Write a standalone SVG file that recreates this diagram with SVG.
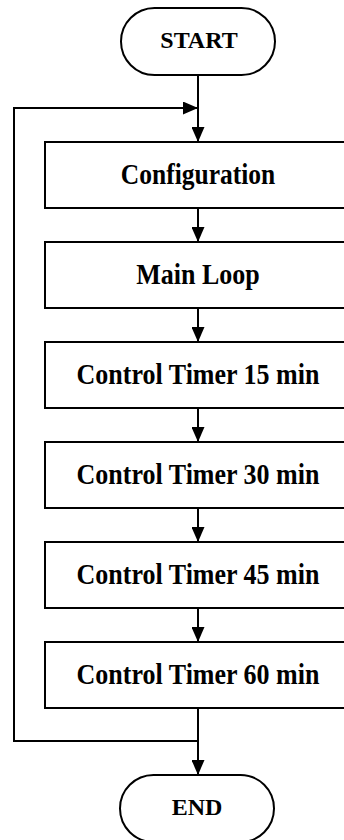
<svg xmlns="http://www.w3.org/2000/svg" width="344" height="840" viewBox="0 0 344 840">
<style>
.shape{fill:#fff;stroke:#000;stroke-width:2}
.lbl{font-family:"Liberation Serif","Times New Roman",serif;font-weight:bold;font-size:26px;text-anchor:middle;fill:#000}
.term{font-size:24px}
.conn{fill:none;stroke:#000;stroke-width:2}
</style>
<defs>
<marker id="arr" markerWidth="15" markerHeight="13" refX="15" refY="6.5" viewBox="0 0 15 13" orient="auto" markerUnits="userSpaceOnUse">
<path d="M0,0 L15,6.5 L0,13 Z" fill="#000"/>
</marker>
</defs>
<g id="connectors">
<path class="conn" d="M198,75 V142" marker-end="url(#arr)"/>
<path class="conn" d="M198,208 V242" marker-end="url(#arr)"/>
<path class="conn" d="M198,308 V342" marker-end="url(#arr)"/>
<path class="conn" d="M198,408 V442" marker-end="url(#arr)"/>
<path class="conn" d="M198,508 V542" marker-end="url(#arr)"/>
<path class="conn" d="M198,608 V642" marker-end="url(#arr)"/>
<path class="conn" d="M198,708 V775" marker-end="url(#arr)"/>
<path class="conn" d="M198,741 H14 V108 H198" marker-end="url(#arr)"/>
</g>
<g id="start">
<rect class="shape" x="121" y="8" width="154" height="67" rx="33.5"/>
<text class="lbl term" x="199" y="48">START</text>
</g>
<g id="configuration">
<rect class="shape" x="45" y="142" width="306" height="66"/>
<text class="lbl" transform="translate(198,184) scale(0.98,1.12)">Configuration</text>
</g>
<g id="main-loop">
<rect class="shape" x="45" y="242" width="306" height="66"/>
<text class="lbl" transform="translate(198,284) scale(1,1.12)">Main Loop</text>
</g>
<g id="timer15">
<rect class="shape" x="45" y="342" width="306" height="66"/>
<text class="lbl" transform="translate(198,384) scale(1,1.12)">Control Timer 15 min</text>
</g>
<g id="timer30">
<rect class="shape" x="45" y="442" width="306" height="66"/>
<text class="lbl" transform="translate(198,484) scale(1,1.12)">Control Timer 30 min</text>
</g>
<g id="timer45">
<rect class="shape" x="45" y="542" width="306" height="66"/>
<text class="lbl" transform="translate(198,584) scale(1,1.12)">Control Timer 45 min</text>
</g>
<g id="timer60">
<rect class="shape" x="45" y="642" width="306" height="66"/>
<text class="lbl" transform="translate(198,684) scale(1,1.12)">Control Timer 60 min</text>
</g>
<g id="end">
<rect class="shape" x="120" y="775" width="154" height="67" rx="33.5"/>
<text class="lbl term" x="197" y="815">END</text>
</g>
</svg>
